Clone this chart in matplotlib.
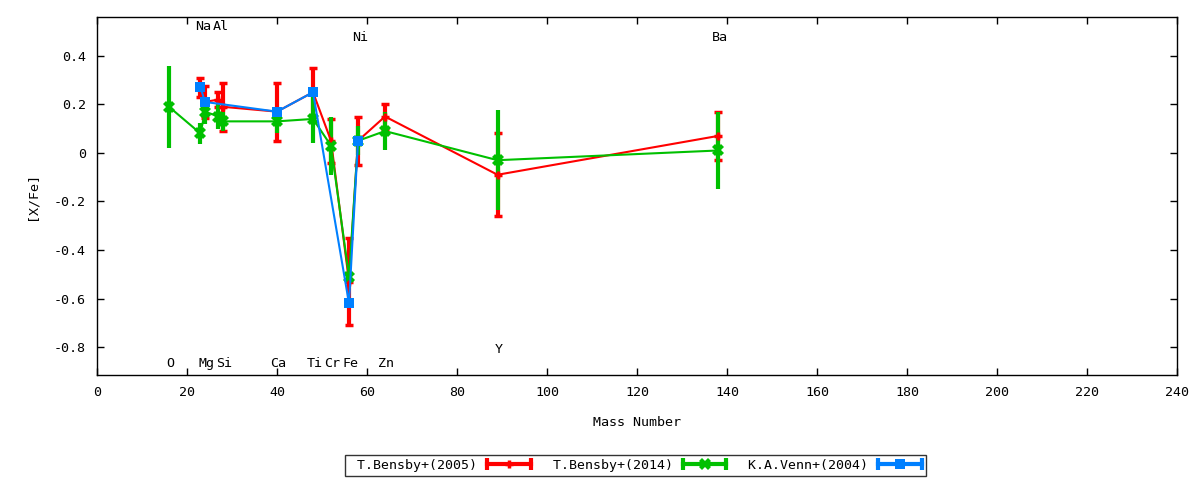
import matplotlib
matplotlib.use('Agg')
import matplotlib.pyplot as plt
from matplotlib.lines import Line2D
from matplotlib.legend_handler import HandlerLine2D
from matplotlib.ticker import FuncFormatter

plt.rcParams['font.family'] = ['DejaVu Sans Mono']
plt.rcParams['font.size'] = 9.6

# T.Bensby+(2005)
b05_mass = [23, 24, 27, 28, 40, 48, 52, 56, 58, 64, 89, 138]
b05_val = [0.27, 0.21, 0.22, 0.19, 0.17, 0.25, 0.05, -0.53, 0.05, 0.15, -0.09, 0.07]
b05_err = [0.04, 0.065, 0.03, 0.10, 0.12, 0.10, 0.09, 0.18, 0.10, 0.05, 0.17, 0.10]

# T.Bensby+(2014)
b14_mass = [16, 23, 24, 27, 28, 40, 48, 52, 56, 58, 64, 89, 138]
b14_val = [0.19, 0.08, 0.17, 0.15, 0.13, 0.13, 0.14, 0.03, -0.51, 0.05, 0.09, -0.03, 0.01]
b14_err = [0.17, 0.045, 0.05, 0.05, 0.04, 0.05, 0.10, 0.12, 0.03, 0.06, 0.08, 0.205, 0.16]

# K.A.Venn+(2004)
v04_mass = [23, 24, 40, 48, 56, 58]
v04_val = [0.27, 0.21, 0.17, 0.25, -0.62, 0.05]
v04_err = [0.0, 0.0, 0.0, 0.0, 0.0, 0.0]

# element labels
top_names = ['Na', 'Al', 'Ni', 'Ba']
top_mass = [23, 27, 58, 138]
top_y = [0.52, 0.52, 0.475, 0.475]
bot_names = ['O', 'Mg', 'Si', 'Ca', 'Ti', 'Cr', 'Fe', 'Zn', 'Y']
bot_mass = [16, 24, 28, 40, 48, 52, 56, 64, 89]
bot_y = [-0.866, -0.866, -0.866, -0.866, -0.866, -0.866, -0.866, -0.866, -0.808]

series = [
    (b05_mass, b05_val, b05_err, '#ff0000', '+', 6, 2.5, 'T.Bensby+(2005)'),
    (b14_mass, b14_val, b14_err, '#00c000', 'X', 8, 0, 'T.Bensby+(2014)'),
    (v04_mass, v04_val, v04_err, '#0080ff', 's', 7.5, 0, 'K.A.Venn+(2004)'),
]

fig = plt.figure(figsize=(12, 4.8), dpi=100)
ax = fig.add_axes([0.0808, 0.21875, 0.9002, 0.74585])

handles, labels, hmap = [], [], {}
for mass, val, err, col, mk, ms, mew, lab in series:
    ax.errorbar(mass, val, yerr=err, color=col, marker=mk, ms=ms, mew=mew,
                lw=1.5, elinewidth=3, capsize=3, capthick=2.5)
    # gnuplot-like key sample: line with end caps and a point in the middle
    caps = Line2D([], [], color=col, lw=3, marker='|', ms=8, mew=3)
    pt = Line2D([], [], color=col, lw=0, marker=mk, ms=ms, mew=mew)
    hmap[caps] = HandlerLine2D(numpoints=2, marker_pad=0)
    hmap[pt] = HandlerLine2D(numpoints=1)
    handles.append((caps, pt))
    labels.append(' ' + lab)

for n, m, y in zip(top_names, top_mass, top_y):
    ax.text(m + 0.5, y, n, ha='center', va='center')
for n, m, y in zip(bot_names, bot_mass, bot_y):
    ax.text(m + 0.3, y, n, ha='center', va='center')

ax.set_xlim(0, 240)
ax.set_ylim(-0.915, 0.56)
ax.set_xticks(range(0, 241, 20))
ax.set_yticks([-0.8, -0.6, -0.4, -0.2, 0, 0.2, 0.4])
ax.yaxis.set_major_formatter(FuncFormatter(lambda v, p: '0' if abs(v) < 1e-9 else '%g' % v))
ax.tick_params(direction='in', top=True, right=True, length=5, width=1, pad=8)
for s in ax.spines.values():
    s.set_linewidth(1)
ax.set_xlabel('Mass Number', labelpad=12)
ax.set_ylabel('[X/Fe]', labelpad=11)

leg = fig.legend(handles, labels, handler_map=hmap, loc='center',
                 bbox_to_anchor=(0.5296, 0.031), ncol=3, fontsize=9.5,
                 markerfirst=False, frameon=True, fancybox=False,
                 edgecolor='black', handlelength=3.3, columnspacing=1.05,
                 borderpad=0.3, handletextpad=0.76)
leg.get_frame().set_linewidth(1)

fig.savefig('out.png', dpi=100)
